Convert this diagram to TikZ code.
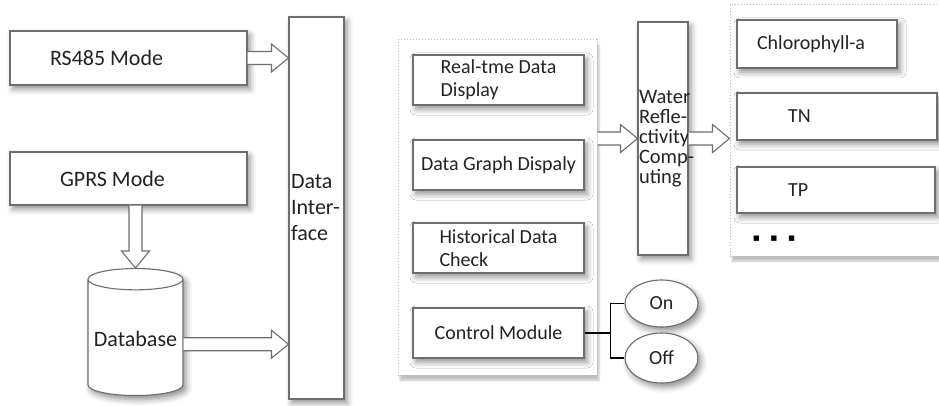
\documentclass[tikz,border=0pt]{standalone}
\usepackage{fontspec}
\setmainfont{Carlito}
\newfontfamily\symfont{DejaVu Sans}
\usetikzlibrary{shapes.geometric,shadows.blur,calc}

\definecolor{linegray}{RGB}{110,110,110}
\definecolor{inkgray}{RGB}{35,35,35}

\tikzset{
  softshadow/.style={blur shadow={shadow xshift=3pt,shadow yshift=-4pt,shadow blur radius=6pt,shadow opacity=45}},
  box/.style={draw=linegray,line width=1.1pt,fill=white,inner sep=0pt,softshadow,text=inkgray,font=\fontsize{20}{23}\selectfont},
  bigbox/.style={box,font=\fontsize{22}{26}\selectfont},
  group/.style={draw=gray!55,dotted,line width=1pt,fill=white,blur shadow={shadow xshift=2pt,shadow yshift=-5pt,shadow opacity=25}},
  fat/.style={draw=linegray,line width=1.1pt,fill=white,line join=miter},
}

% hollow block arrow from #1 to #2
\newcommand{\fatarrow}[2]{%
  \draw[fat] let \p1=#1, \p2=#2, \n1={atan2(\y2-\y1,\x2-\x1)}, \n2={veclen(\x2-\x1,\y2-\y1)} in
    [shift={(\p1)},rotate=\n1] (0pt,6.5pt) -- (\n2-17pt,6.5pt) -- (\n2-17pt,14pt) -- (\n2+0pt,0pt)
    -- (\n2-17pt,-14pt) -- (\n2-17pt,-6.5pt) -- (0pt,-6.5pt);}

\begin{document}
\begin{tikzpicture}[x=1pt,y=-1pt]
  \useasboundingbox (0,0) rectangle (939,406);

  % dotted groups
  \node[group,minimum width=199pt,minimum height=335pt] (dispgrp) at (497.5,207.5) {};
  \node[group,minimum width=212pt,minimum height=251pt] (paramgrp) at (836,130.5) {};

  % data sources
  \node[bigbox,minimum height=54pt,text width=237pt,align=flush left] (rs485) at (128.5,58) {\hspace*{40pt}RS485 Mode};
  \node[bigbox,minimum height=53pt,text width=237pt,align=flush left] (gprs) at (128.5,178.5) {\hspace*{50pt}GPRS Mode};
  \node[bigbox,cylinder,shape border rotate=90,aspect=0.25,minimum width=95pt,minimum height=127pt,inner sep=1pt,anchor=north] (db) at (135.5,268) {Database};
  \node[bigbox,minimum height=382pt,text width=51pt,inner xsep=2pt,align=flush left] (iface) at (316.5,208) {Data\\Inter-\\face};

  % display modules
  \node[box,minimum width=171pt,minimum height=50pt,align=flush left] (rtd) at (498.5,80) {Real-tme Data\\Display};
  \node[box,minimum width=171pt,minimum height=50pt] (graph) at (498.5,165) {Data Graph Dispaly};
  \node[box,minimum width=171pt,minimum height=50pt,align=flush left] (hist) at (498.5,248) {Historical Data\\Check};
  \node[box,minimum width=171pt,minimum height=50pt] (ctrl) at (498.5,333) {Control Module};
  \node[box,ellipse,minimum width=73pt,minimum height=47pt] (on) at (661.5,303.5) {On};
  \node[box,ellipse,minimum width=73pt,minimum height=50pt] (off) at (661.5,358) {Off};

  \node[box,minimum height=233pt,text width=48pt,inner xsep=1pt,align=flush left,font=\fontsize{20.5}{20}\selectfont] (water) at (663,138.5) {Water\\\mbox{Refle-}\\ctivity\\\mbox{Comp-}\\uting};

  % water parameters
  \node[box,minimum height=48pt,text width=160pt,align=flush left] (chl) at (817,44) {\hspace*{20pt}Chlorophyll-a};
  \node[box,minimum height=47pt,text width=200pt,align=flush left] (tn) at (837,116.5) {\hspace*{51pt}TN};
  \node[box,minimum height=46pt,text width=198pt,align=flush left] (tp) at (836,190) {\hspace*{51pt}TP};
  \node[font=\symfont\fontsize{7}{7}\selectfont] (more) at (774,239) {■\hspace{11pt}■\hspace{11pt}■};

  % block arrows
  \coordinate (dbout) at ([yshift=-5.5pt]db.east);
  \fatarrow{(rs485.east)}{(rs485.east -| iface.west)}
  \fatarrow{(gprs.south -| db.north)}{(db.north)}
  \fatarrow{(dbout)}{(dbout -| iface.west)}
  \fatarrow{(dispgrp.east |- water.west)}{(water.west)}
  \fatarrow{(water.east)}{(water.east -| paramgrp.west)}

  % switch
  \draw[line width=1.1pt] (ctrl.east) -- ++(26,0) coordinate (fork);
  \draw[line width=1.1pt] (fork) |- (on.west);
  \draw[line width=1.1pt] (fork) |- (off.west);
\end{tikzpicture}
\end{document}
